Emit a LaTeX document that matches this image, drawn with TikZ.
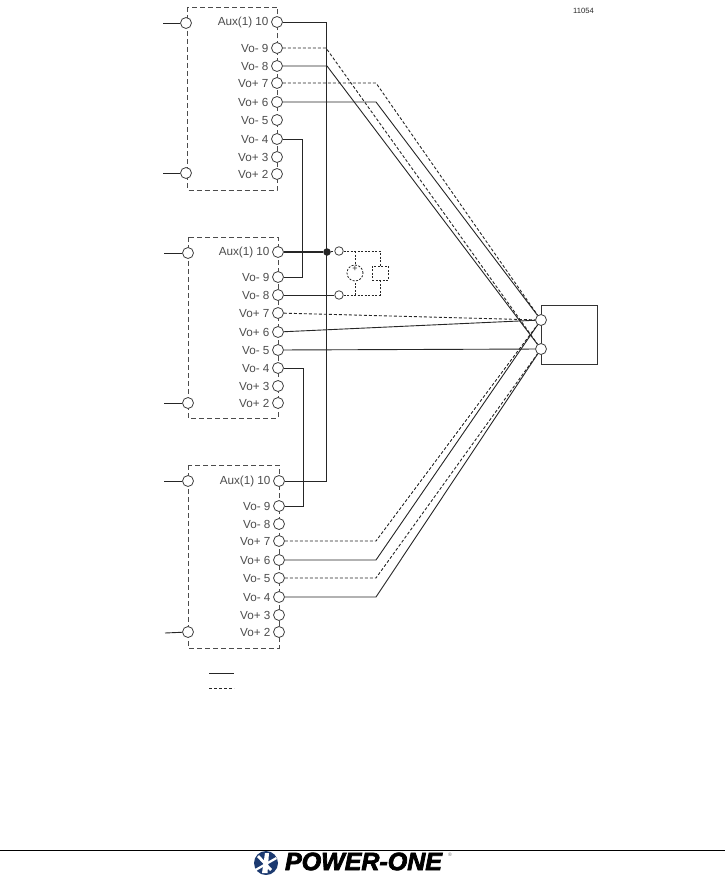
\documentclass[tikz,border=0pt]{standalone}
\usepackage{fontspec}
\setmainfont{Liberation Sans}
\newfontfamily\logofont[BoldItalicFeatures={FakeBold=3}]{Liberation Sans}
\tikzset{
  term/.style={circle,draw=black!75,fill=white,line width=0.8pt,minimum size=11pt,inner sep=0pt},
  smallterm/.style={circle,draw=black!75,fill=white,line width=0.8pt,minimum size=8.5pt,inner sep=0pt},
  vlab/.style={text=black!70,font=\fontsize{11.7}{13}\selectfont,inner sep=0pt,yshift=-0.8pt,xshift=-2.4pt},
  solidw/.style={draw=black!85,line width=0.9pt},
  dashw/.style={draw=black!85,line width=0.9pt,dash pattern=on 3pt off 2pt},
  blockb/.style={draw=black!70,line width=0.95pt,dash pattern=on 5pt off 3pt},
  senseb/.style={draw=black!85,line width=0.8pt,dash pattern=on 2pt off 1.5pt}
}
\definecolor{logoblue}{HTML}{1C3A70}
\begin{document}
\begin{tikzpicture}[x=1pt,y=-1pt]
\useasboundingbox (0,0) rectangle (725,875);

% Dashed outlines
\draw[blockb] (187.5,7) rectangle (277,190);
\draw[blockb] (188,237) rectangle (278,418);
\draw[blockb] (188,465) rectangle (279,648);

% Upper module
\node[term] (aInA) at (186,23) {};
\node[term] (aInB) at (186,173) {};
\node[term,label={[vlab]left:Aux(1) 10}] (aTen) at (277,22) {};
\node[term,label={[vlab]left:Vo- 9}] (aNine) at (277,48) {};
\node[term,label={[vlab]left:Vo- 8}] (aEight) at (277,66) {};
\node[term,label={[vlab]left:Vo+ 7}] (aSeven) at (277,83) {};
\node[term,label={[vlab]left:Vo+ 6}] (aSix) at (277,102) {};
\node[term,label={[vlab]left:Vo- 5}] (aFive) at (277,120) {};
\node[term,label={[vlab]left:Vo- 4}] (aFour) at (277,139) {};
\node[term,label={[vlab]left:Vo+ 3}] (aThree) at (277,157) {};
\node[term,label={[vlab]left:Vo+ 2}] (aTwo) at (277,174) {};

% Middle module
\node[term] (bInA) at (188,253) {};
\node[term] (bInB) at (188,403) {};
\node[term,label={[vlab]left:Aux(1) 10}] (bTen) at (278,252) {};
\node[term,label={[vlab]left:Vo- 9}] (bNine) at (278,277) {};
\node[term,label={[vlab]left:Vo- 8}] (bEight) at (278,295) {};
\node[term,label={[vlab]left:Vo+ 7}] (bSeven) at (278,313) {};
\node[term,label={[vlab]left:Vo+ 6}] (bSix) at (278,332) {};
\node[term,label={[vlab]left:Vo- 5}] (bFive) at (278,350) {};
\node[term,label={[vlab]left:Vo- 4}] (bFour) at (278,368) {};
\node[term,label={[vlab]left:Vo+ 3}] (bThree) at (278,386) {};
\node[term,label={[vlab]left:Vo+ 2}] (bTwo) at (278,403) {};

% Lower module
\node[term] (cInA) at (188,481) {};
\node[term] (cInB) at (188,632) {};
\node[term,label={[vlab]left:Aux(1) 10}] (cTen) at (279,481) {};
\node[term,label={[vlab]left:Vo- 9}] (cNine) at (279,506) {};
\node[term,label={[vlab]left:Vo- 8}] (cEight) at (279,524) {};
\node[term,label={[vlab]left:Vo+ 7}] (cSeven) at (279,541) {};
\node[term,label={[vlab]left:Vo+ 6}] (cSix) at (279,560) {};
\node[term,label={[vlab]left:Vo- 5}] (cFive) at (279,578) {};
\node[term,label={[vlab]left:Vo- 4}] (cFour) at (279,597) {};
\node[term,label={[vlab]left:Vo+ 3}] (cThree) at (279,615) {};
\node[term,label={[vlab]left:Vo+ 2}] (cTwo) at (279,632) {};

% Free ends on the left
\coordinate (aEndA) at (163,23);
\coordinate (aEndB) at (163,173);
\coordinate (bEndA) at (164,253);
\coordinate (bEndB) at (164,403);
\coordinate (cEndA) at (164,481);
\coordinate (cEndB) at (165,633);
\draw[solidw] (aEndA) -- (aInA);
\draw[solidw] (aEndB) -- (aInB);
\draw[solidw] (bEndA) -- (bInA);
\draw[solidw] (bEndB) -- (bInB);
\draw[solidw] (cEndA) -- (cInA);
\draw[solidw] (cEndB) -- (cInB);

% Load
\node[draw=black!80,line width=0.8pt,minimum width=56pt,minimum height=59.5pt,inner sep=0pt] (load) at (569,334.7) {};
\node[term] (loadP) at (541,320) {};
\node[term] (loadM) at (541,349) {};

% Links between modules
\draw[solidw] (aTen) -- ++(49,0) |- (cTen);
\draw[solidw] (aFour) -- ++(25,0) |- (bNine);
\draw[solidw] (bFour) -- ++(25,0) |- (cNine);

% Power rails, upper module
\draw[dashw] (aNine) -- ++(49,0) -- (loadM);
\draw[solidw] (aEight) -- ++(50,0) -- (loadM);
\draw[dashw] (aSeven) -- ++(99,0) -- (loadP);
\draw[solidw] (aSix) -- ++(99,0) -- (loadP);

% Power rails, middle module
\draw[dashw] (bSeven) -- (loadP);
\draw[solidw] (bSix) -- (loadP);
\draw[solidw] (bFive) -- (loadM);

% Power rails, lower module
\draw[dashw] (cSeven) -- ++(97,0) -- (loadP);
\draw[solidw] (cSix) -- ++(97,0) -- (loadP);
\draw[dashw] (cFive) -- ++(97,0) -- (loadM);
\draw[solidw] (cFour) -- ++(97,0) -- (loadM);

% Sense network
\node[circle,fill=black!85,minimum size=7.5pt,inner sep=0pt] (senseDot) at (327,252) {};
\node[smallterm] (senseA) at (339,251) {};
\node[smallterm] (senseB) at (339,295) {};
\draw[line width=1.8pt,draw=black!85] (bTen) -- (senseDot);
\draw[solidw] (bEight) -- (senseB);
\draw[senseb] (senseDot) -- (senseA);
\node[senseb,draw,circle,minimum size=16pt,inner sep=0pt] (sourceV) at (355,273) {};
\node[senseb,draw,minimum width=16pt,minimum height=14pt,inner sep=0pt] (sourceR) at (380,273) {};
\node[inner sep=0pt,font=\fontsize{9}{9}\selectfont,text=black!85] (sourcePlus) at (355,268.5) {+};
\coordinate (topV) at (355,251);
\coordinate (botV) at (355,295);
\coordinate (topR) at (380,251);
\coordinate (botR) at (380,295);
\draw[senseb] (senseA) -- (topR) -- (sourceR);
\draw[senseb] (senseB) -- (botR) -- (sourceR);
\draw[senseb] (topV) -- (sourceV);
\draw[senseb] (botV) -- (sourceV);

% Legend
\coordinate (legA) at (209,673);
\coordinate (legB) at (234,673);
\coordinate (legC) at (209,688);
\coordinate (legD) at (234,688);
\draw[solidw] (legA) -- (legB);
\draw[dashw] (legC) -- (legD);

% Number
\node[text=black!85,font=\fontsize{7.6}{8}\selectfont,inner sep=0pt] (drawNo) at (583.5,11) {11054};

% Footer
\coordinate (ruleL) at (0,850);
\coordinate (ruleR) at (725,850);
\draw[line width=0.9pt] (ruleL) -- (ruleR);
\fill[logoblue] (266,863) circle (12);
\fill[white] (265,853) -- (269,853) -- (267.5,873) -- (262,873) -- cycle;
\fill[white] (255,869) -- (276,857) -- (277,859) -- (256,871) -- cycle;
\fill[white] (257,857) -- (259,855) -- (272,869) -- (270,871) -- cycle;
\node[text=black,inner sep=0pt,font=\fontsize{25}{25}\logofont\bfseries\itshape] (logoText) at (363.5,861.5) {POWER-ONE};
\node[text=black!60,inner sep=0pt,font=\fontsize{5}{5}\selectfont] (logoMark) at (450,855) {®};
\end{tikzpicture}
\end{document}
